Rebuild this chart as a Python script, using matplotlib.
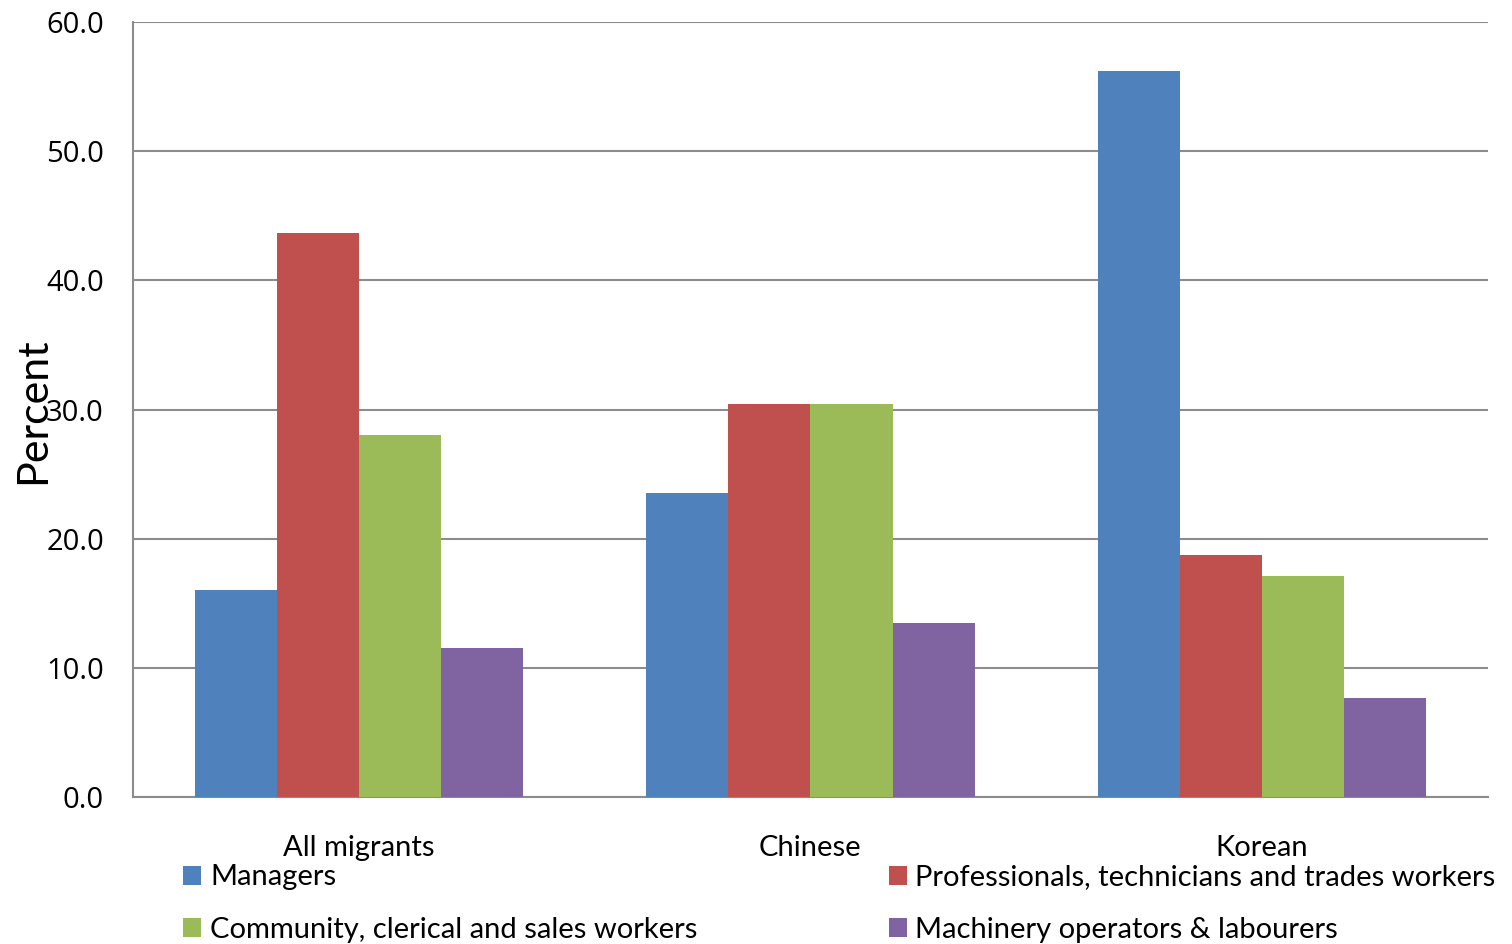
import matplotlib
matplotlib.use("Agg")
import matplotlib.pyplot as plt
import numpy as np
from matplotlib.patches import Patch

groups = ["All migrants", "Chinese", "Korean"]
occupations = ["Managers",
               "Professionals, technicians and trades workers",
               "Community, clerical and sales workers",
               "Machinery operators & labourers"]
managers = [16.0, 23.5, 56.2]
professionals = [43.7, 30.4, 18.7]
community = [28.0, 30.4, 17.1]
machinery = [11.5, 13.5, 7.7]
colors = ["#4F81BD", "#C0504D", "#9BBB59", "#8064A2"]
yticks = [0, 10, 20, 30, 40, 50, 60]

series = [managers, professionals, community, machinery]

fig = plt.figure(figsize=(15.12, 9.44), dpi=100)
ax = fig.add_axes([0.088, 0.1557, 0.896, 0.821])

x = np.arange(len(groups))
w = 1 / 5.5
for i, vals in enumerate(series):
    ax.bar(x + (i - 1.5) * w, vals, width=w, color=colors[i], zorder=3,
           edgecolor="none")

ax.set_xlim(-0.5, 2.5)
ax.set_ylim(0, 60)
ax.set_yticks(yticks)
ax.set_yticklabels([f"{v:.1f}" for v in yticks], fontsize=21,
                   family="Open Sans")
ax.set_xticks(x)
ax.set_xticklabels(groups, fontsize=21, family="Lato")
ax.tick_params(axis="y", length=0, pad=21)
ax.tick_params(axis="x", length=0, pad=27)
ax.yaxis.grid(True, color="#8C8C8C", linewidth=1.5, zorder=0)
for s in ["top", "right"]:
    ax.spines[s].set_visible(False)
for s in ["left", "bottom"]:
    ax.spines[s].set_color("#8C8C8C")
    ax.spines[s].set_linewidth(1.5)

fig.text(0.022, 0.565, "Percent", rotation=90, fontsize=31, family="Lato",
         ha="center", va="center")

# legend fills column-wise, so reorder to get two rows of two
order = [0, 2, 1, 3]
handles = [Patch(facecolor=colors[i], label=occupations[i]) for i in order]
fig.legend(handles=handles, loc="lower left", bbox_to_anchor=(0.1135, -0.011),
           ncol=2, frameon=False, prop={"family": "Lato", "size": 21},
           handlelength=0.62, handleheight=0.62, handletextpad=0.3,
           columnspacing=6.55, labelspacing=0.9, borderaxespad=0)

fig.savefig("out.png", dpi=100)
